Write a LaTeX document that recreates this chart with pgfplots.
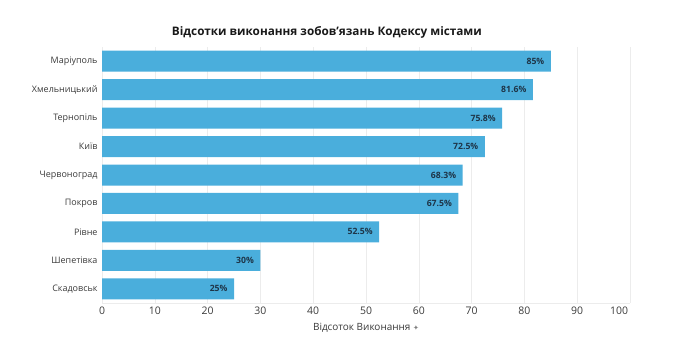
\documentclass[border=0pt]{standalone}
\usepackage{pgfplots}
\pgfplotsset{compat=1.18}
\usepackage{fontspec}
\setmainfont{Open Sans}
\newfontfamily\symfont{DejaVu Sans}
\definecolor{barblue}{HTML}{4AAEDC}
\definecolor{lblnavy}{HTML}{1E3548}
\definecolor{txtgray}{HTML}{3A3A3A}
\definecolor{gridgray}{HTML}{ECECEC}
\begin{document}
\begin{tikzpicture}
\path (0,0) rectangle (696bp,361bp);
\begin{axis}[
  at={(102bp,58bp)}, anchor=south west,
  scale only axis, width=528bp, height=256bp,
  xbar, bar width=21bp,
  xmin=0, xmax=100, ymin=-0.5, ymax=8.5,
  y dir=reverse,
  ytick={0,...,8},
  yticklabels={Маріуполь,Хмельницький,Тернопіль,Київ,Червоноград,Покров,Рівне,Шепетівка,Скадовськ},
  yticklabel style={font=\fontsize{9}{10}\selectfont, text=txtgray, xshift=-1bp},
  xtick={0,10,...,90},
  extra x ticks={100},
  extra x tick style={xticklabel style={xshift=-11bp}},
  xticklabel style={font=\fontsize{10.5}{12}\selectfont, text=txtgray},
  /pgf/number format/assume math mode=true,
  major tick length=0pt,
  xmajorgrids, grid style={gridgray, line width=0.6pt},
  axis line style={draw=none},
  axis x line*=bottom,
  x axis line style={draw=gridgray},
  axis y line*=left,
  y axis line style={draw=none},
  title={\textbf{Відсотки виконання зобов'язань Кодексу містами}},
  title style={font=\fontsize{11.8}{13}\selectfont, text=black!90, at={(0.426,1)}, yshift=-1bp},
  xlabel={Відсоток Виконання {\symfont\color{gray}\scriptsize ✦}},
  xlabel style={font=\fontsize{10}{12}\selectfont, text=txtgray, yshift=-2bp},
  nodes near coords={\textbf{\pgfmathprintnumber{\pgfplotspointmeta}\%}},
  point meta=x,
  every node near coord/.append style={anchor=east, xshift=-3bp, font=\fontsize{8.7}{10}\selectfont, text=lblnavy},
]
\addplot[fill=barblue, draw=none] coordinates {
(85,0) (81.6,1) (75.8,2) (72.5,3) (68.3,4) (67.5,5) (52.5,6) (30,7) (25,8)
};
\end{axis}
\end{tikzpicture}
\end{document}
